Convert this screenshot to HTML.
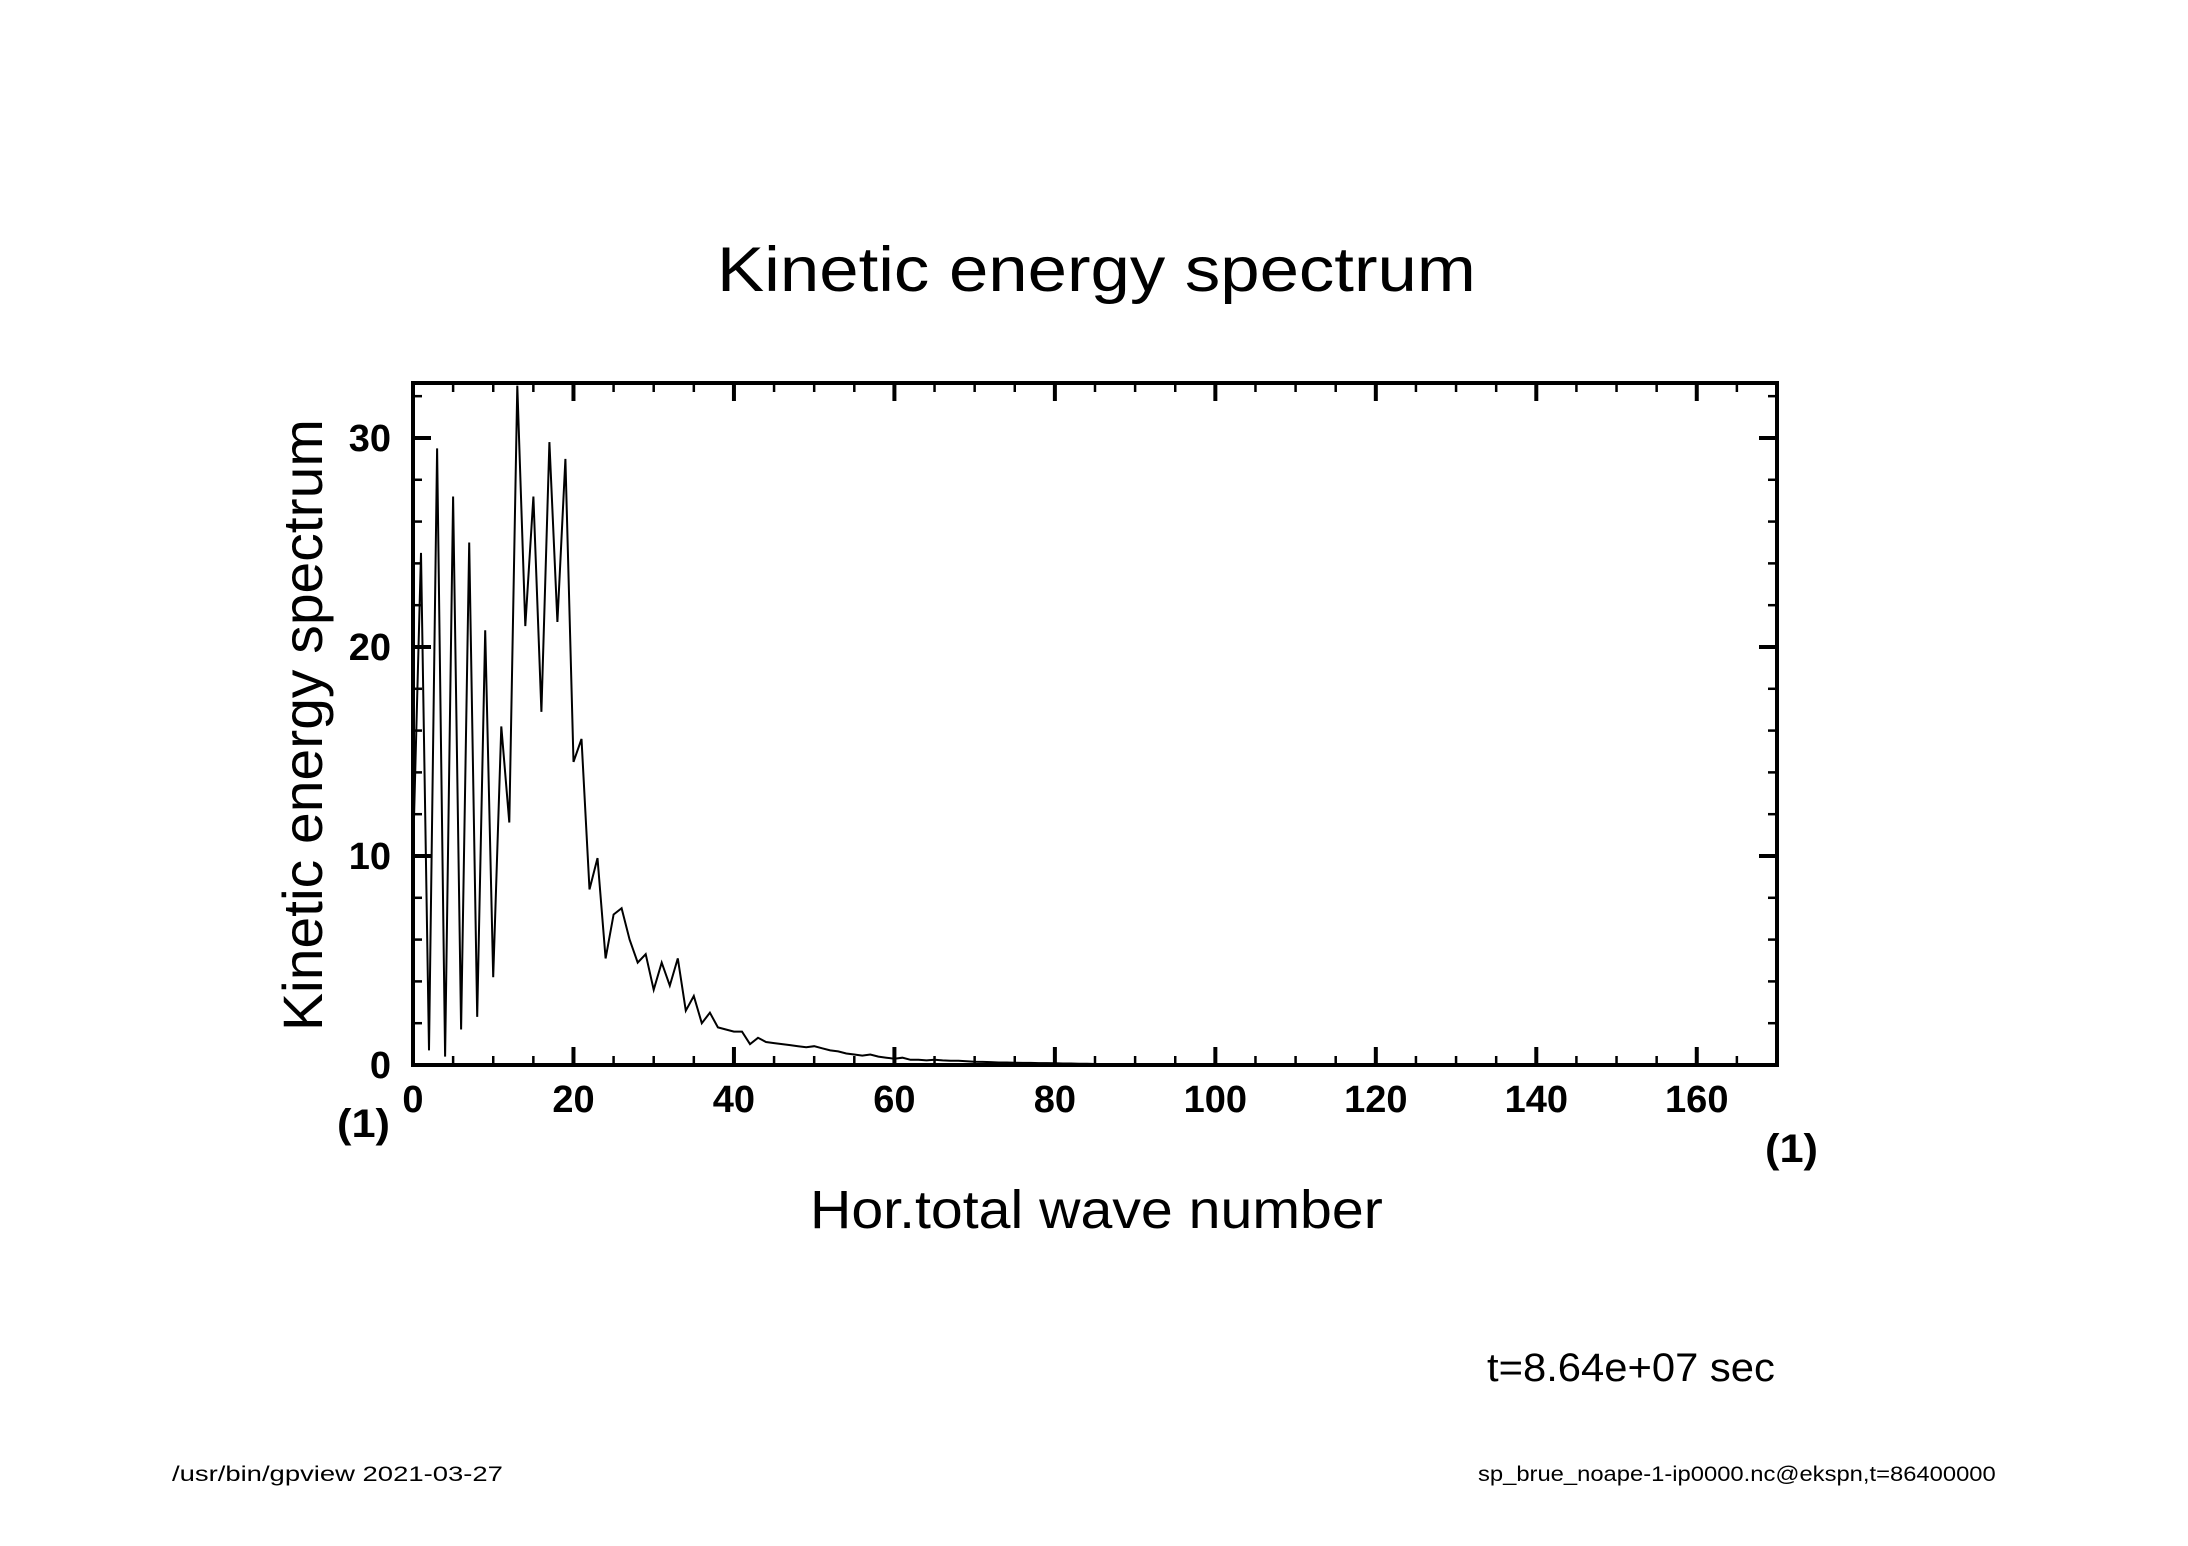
<!DOCTYPE html>
<html><head><meta charset="utf-8"><style>
html,body{margin:0;padding:0;background:#fff;}
svg{display:block;}
text{font-family:"Liberation Sans","DejaVu Sans",sans-serif;fill:#000;}
</style></head><body>
<svg id="chart" width="2188" height="1546" viewBox="0 0 2188 1546" xmlns="http://www.w3.org/2000/svg">
<text id="t-title" x="0" y="291" font-size="63">Kinetic energy spectrum</text>
<g id="axes"></g>
<path id="line" fill="none" stroke="#000" stroke-width="2" stroke-linejoin="miter"/>
<g transform="translate(322,0) rotate(-90)"><text id="t-ytitle" x="0" y="0" font-size="56">Kinetic energy spectrum</text></g>
<text id="t-xtitle" x="0" y="1228" font-size="54">Hor.total wave number</text>
<text x="337" y="1137" font-size="40" font-weight="bold" textLength="53" lengthAdjust="spacingAndGlyphs">(1)</text>
<text x="1765" y="1162" font-size="40" font-weight="bold" textLength="53" lengthAdjust="spacingAndGlyphs">(1)</text>
<text id="t-time" x="0" y="1381" font-size="40">t=8.64e+07 sec</text>
<text id="t-fl" x="0" y="1481" font-size="21">/usr/bin/gpview  2021-03-27</text>
<text id="t-fr" x="0" y="1481" font-size="21">sp_brue_noape-1-ip0000.nc@ekspn,t=86400000</text>
</svg>
<script>
const xTicks = [0,20,40,60,80,100,120,140,160];
const yTicks = [0,10,20,30];
const energy = [10,24.5,0.7,29.5,0.4,27.2,1.7,25.0,2.3,20.8,4.2,16.2,11.6,32.5,21.0,27.2,16.9,29.8,21.2,29.0,
14.5,15.6,8.4,9.9,5.1,7.2,7.5,6.0,4.9,5.3,3.6,4.9,3.8,5.1,2.6,3.3,2.0,2.5,1.8,1.7,
1.6,1.6,1.0,1.3,1.1,1.05,1.0,0.95,0.9,0.85,0.9,0.8,0.7,0.65,0.55,0.5,0.45,0.5,0.4,0.35,
0.3,0.35,0.25,0.25,0.22,0.25,0.22,0.2,0.2,0.18,0.16,0.15,0.14,0.12,0.12,0.11,0.1,0.1,0.09,0.09,
0.08,0.07,0.07,0.06,0.06,0.05,0.05,0.05,0.04,0.04,0.04,0.03,0.03,0.03,0.03,0.03,0.03,0.03,0.03,0.03,
0.03,0.02,0.02,0.02,0.02,0.02,0.02,0.02,0.02,0.02,0.02,0.02,0.02,0.02,0.02,0.02,0.02,0.02,0.02,0.02,
0.01,0.01,0.01,0.01,0.01,0.01,0.01,0.01,0.01,0.01,0.01,0.01,0.01,0.01,0.01,0.01,0.01,0.01,0.01,0.01,
0.01,0.01,0.01,0.01,0.01,0.01,0.01,0.01,0.01,0.01,0.01,0.01,0.01,0.01,0.01,0.01,0.01,0.01,0.01,0.01,
0.01,0.01,0.01,0.01,0.01,0.01,0.01,0.01,0.01,0.01,0.01];
const X0=413, X1=1777, Y0=1065, Y1=383, XMAX=170, YMAX=32.63;
function sx(v){return X0+(X1-X0)*v/XMAX;}
function sy(v){return Y0-(Y0-Y1)*v/YMAX;}
const NS="http://www.w3.org/2000/svg";
const ax=document.getElementById('axes');
function mk(tag,attrs,parent){const e=document.createElementNS(NS,tag);for(const k in attrs)e.setAttribute(k,attrs[k]);(parent||ax).appendChild(e);return e;}
const frame=mk('rect',{x:X0,y:Y1,width:X1-X0,height:Y0-Y1,fill:'none',stroke:'#000','stroke-width':4});


for(let v=0;v<=XMAX;v+=5){
  const major=v%20===0, L=major?18:9, w=major?4:2.5;
  const t1=mk('line',{x1:sx(v),x2:sx(v),y1:Y0,y2:Y0-L,stroke:'#000','stroke-width':w});
  
  
  const t2=mk('line',{x1:sx(v),x2:sx(v),y1:Y1,y2:Y1+L,stroke:'#000','stroke-width':w});
  
  
}
for(let v=0;v<=YMAX;v+=2){
  const major=v%10===0, L=major?18:9, w=major?4:2.5;
  const t1=mk('line',{x1:X0,x2:X0+L,y1:sy(v),y2:sy(v),stroke:'#000','stroke-width':w});
  
  
  const t2=mk('line',{x1:X1,x2:X1-L,y1:sy(v),y2:sy(v),stroke:'#000','stroke-width':w});
  
  
}
xTicks.forEach(v=>{
  const t=mk('text',{x:sx(v),y:Y0+47,'font-size':38,'text-anchor':'middle','font-weight':'bold'});
  t.textContent=v;
  
  
});
yTicks.forEach(v=>{
  const t=mk('text',{x:X0-22,y:sy(v)+13,'font-size':38,'text-anchor':'end','font-weight':'bold'});
  t.textContent=v;
  
  
});
let d='';
energy.forEach((v,i)=>{ if(i>XMAX) return; d+=(i?'L':'M')+sx(i).toFixed(1)+' '+sy(Math.min(v,YMAX)).toFixed(1)+' '; });
document.getElementById('line').setAttribute('d',d);
function fit(id,a,b){
  const el=document.getElementById(id);
  const bb=el.getBBox();
  if(!bb.width) return;
  const s=(b-a)/bb.width;
  el.setAttribute('transform','translate('+a+',0) scale('+s+',1) translate('+(-bb.x)+',0)');
}
fit('t-title',717,1476);
fit('t-xtitle',810,1383);
fit('t-time',1487,1775);
fit('t-fl',172,503);
fit('t-fr',1478,1996);
fit('t-ytitle',-1031,-419);
</script>
</body></html>
